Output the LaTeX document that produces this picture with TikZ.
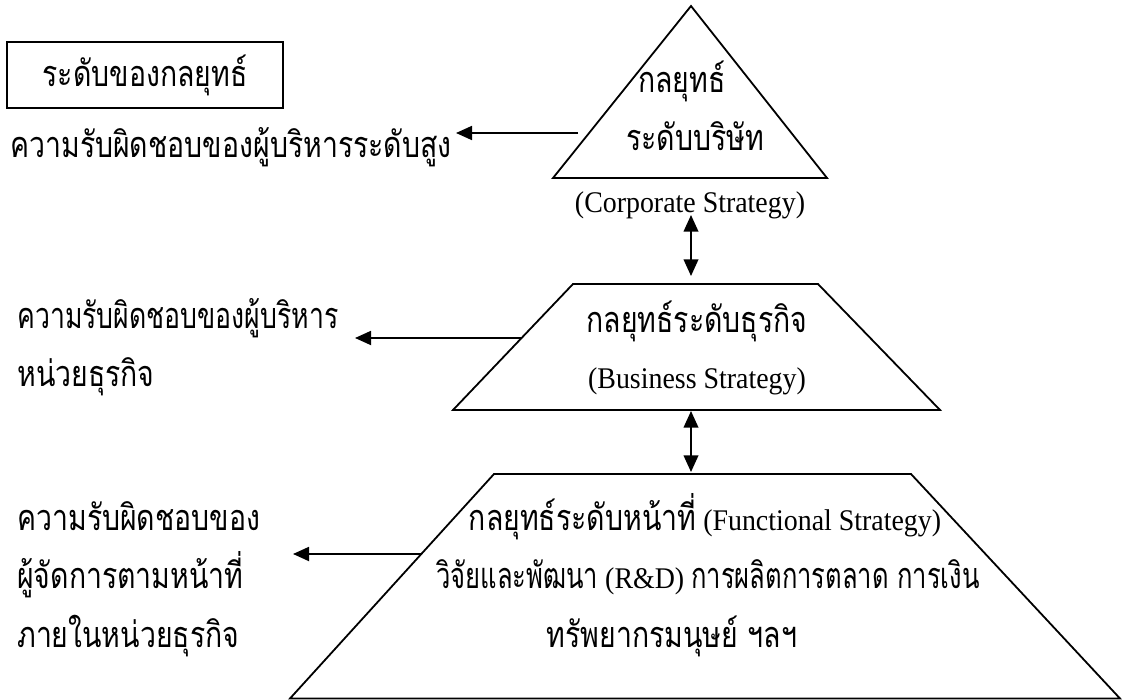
\documentclass[tikz,border=0pt]{standalone}
\usepackage{fontspec}
\setmainfont[FakeStretch=0.93]{Liberation Serif}
\newfontfamily\thai[Script=Thai,FakeStretch=0.79]{Loma}
\newfontfamily\thaimid[Script=Thai,FakeStretch=0.74]{Loma}
\newfontfamily\thainar[Script=Thai,FakeStretch=0.71]{Loma}
\newcommand\thaisz{\thai\fontsize{27}{30}\selectfont}
\newcommand\thaimidsz{\thaimid\fontsize{27}{30}\selectfont}
\newcommand\thainarsz{\thainar\fontsize{27}{30}\selectfont}
\usetikzlibrary{arrows.meta}
\begin{document}
\begin{tikzpicture}[x=0.75pt,y=-0.75pt,
  outline/.style={line width=1.35pt, line join=miter},
  arr/.style={line width=1.35pt,-{Triangle[length=12pt,width=10.5pt]}},
  darr/.style={line width=1.35pt,{Triangle[length=12.5pt,width=11pt]}-{Triangle[length=12.5pt,width=11pt]}},
  th/.style={font=\thaisz, inner sep=0pt},
  lat/.style={font=\fontsize{22.5}{26}\selectfont, inner sep=0pt}]
\useasboundingbox (0,0) rectangle (1125,700);
% shapes
\coordinate (T1) at (691,6);
\coordinate (T2) at (827,178);
\coordinate (T3) at (553,178);
\draw[outline] (T1) -- (T2) -- (T3) -- cycle;
\coordinate (M1) at (573,284);
\coordinate (M2) at (818,284);
\coordinate (M3) at (940,410);
\coordinate (M4) at (453,410);
\draw[outline] (M1) -- (M2) -- (M3) -- (M4) -- cycle;
\coordinate (B1) at (494,474);
\coordinate (B2) at (911,474);
\coordinate (B3) at (1120,698.5);
\coordinate (B4) at (290,698.5);
\draw[outline] (B1) -- (B2) -- (B3) -- (B4) -- cycle;
% title box
\node[draw, line width=1.1pt, minimum width=207pt, minimum height=49.5pt, inner sep=0pt, font=\thaisz] (box) at (145,75) {ระดับของกลยุทธ์};
% left texts
\node[th, anchor=base west] (r1) at (10,157) {ความรับผิดชอบของผู้บริหารระดับสูง};
\node[th, font=\thaimidsz, anchor=base west] (r2a) at (17,328) {ความรับผิดชอบของผู้บริหาร};
\node[th, anchor=base west] (r2b) at (17,386) {หน่วยธุรกิจ};
\node[th, anchor=base west] (r3a) at (17,530) {ความรับผิดชอบของ};
\node[th, anchor=base west] (r3b) at (17,588) {ผู้จัดการตามหน้าที่};
\node[th, anchor=base west] (r3c) at (17,647) {ภายในหน่วยธุรกิจ};
% triangle texts
\node[th, anchor=base] (c1) at (682,92) {กลยุทธ์};
\node[th, anchor=base] (c2) at (695,150) {ระดับบริษัท};
\node[lat, anchor=base] (c3) at (690,212) {(Corporate Strategy)};
% middle texts
\node[th, anchor=base] (m1) at (697,332) {กลยุทธ์ระดับธุรกิจ};
\node[lat, anchor=base] (m2) at (697,388) {(Business Strategy)};
% bottom texts
\node[lat, anchor=base] (f1) at (705,530) {{\thaisz กลยุทธ์ระดับหน้าที่} (Functional Strategy)};
\node[lat, anchor=base] (f2) at (708,588) {{\thainarsz วิจัยและพัฒนา} (R\&D) {\thainarsz การผลิตการตลาด การเงิน}};
\node[th, anchor=base] (f3) at (672,647) {ทรัพยากรมนุษย์ ฯลฯ};
% arrows
\coordinate (a1s) at (578,133);
\coordinate (a1e) at (456,133);
\draw[arr] (a1s) -- (a1e);
\coordinate (a2s) at (522,338);
\coordinate (a2e) at (355,338);
\draw[arr] (a2s) -- (a2e);
\coordinate (a3s) at (422,554);
\coordinate (a3e) at (293,554);
\draw[arr] (a3s) -- (a3e);
\coordinate (d1s) at (691,215);
\coordinate (d1e) at (691,276);
\draw[darr] (d1s) -- (d1e);
\coordinate (d2s) at (691,411);
\coordinate (d2e) at (691,472);
\draw[darr] (d2s) -- (d2e);
\end{tikzpicture}
\end{document}
